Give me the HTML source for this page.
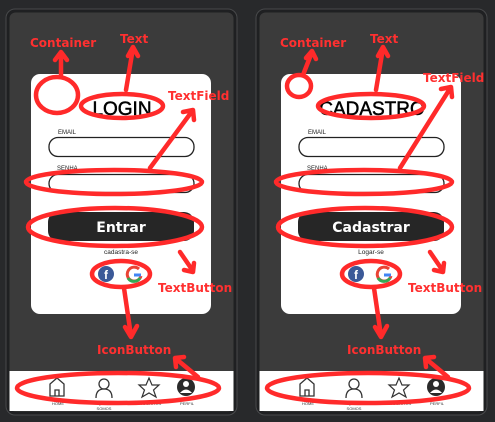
<!DOCTYPE html>
<html><head><meta charset="utf-8"><style>
html,body{margin:0;padding:0;background:#28292b;width:495px;height:422px;overflow:hidden}
svg{display:block;font-family:"Liberation Sans",sans-serif}
.r{fill:none;stroke:#ff2a2a;stroke-width:4.5;stroke-linecap:round;stroke-linejoin:round}
.rl{fill:#ff3030;font-weight:bold;font-size:12px;font-family:"DejaVu Sans",sans-serif}
</style></head><body>
<svg id="s" width="495" height="422"></svg>
<script>
function phone(ox, title, btn, link, cont, txtEll, tfLabel, tfArrowEnd){
  return `<g transform="translate(${ox},0)">
  <rect x="6" y="9" width="231" height="406" rx="9" fill="#1f2022" stroke="#48494b" stroke-width="1"/>
  <rect x="9.5" y="12.5" width="224" height="399" rx="6" fill="#3b3b3b"/>
  <rect x="31" y="74" width="180" height="240" rx="9" fill="#fff"/>
  <text x="122" y="115" text-anchor="middle" font-size="19" fill="#000" stroke="#000" stroke-width="0.5">${title}</text>
  <text x="58" y="134" font-size="6" fill="#222">EMAIL</text>
  <rect x="49" y="137.5" width="145" height="19" rx="9" fill="#fff" stroke="#222" stroke-width="1.3"/>
  <text x="57" y="170" font-size="6" fill="#222">SENHA</text>
  <rect x="49" y="174.5" width="145" height="18" rx="9" fill="#fff" stroke="#222" stroke-width="1.3"/>
  <rect x="48" y="212" width="146" height="29" rx="10" fill="#262626"/>
  <text x="121" y="232" text-anchor="middle" font-size="14" font-weight="bold" fill="#fff" font-family="DejaVu Sans,sans-serif">${btn}</text>
  <text x="121" y="254" text-anchor="middle" font-size="6.5" fill="#222">${link}</text>
  <circle cx="106" cy="274" r="8" fill="#3b5998"/>
  <text x="106" y="279" text-anchor="middle" font-size="12" font-weight="bold" fill="#fff">f</text>
  <g fill="none" stroke-width="3">
    <path d="M139 269 A7 7 0 1 0 141 276" stroke="#ea4335"/><path d="M134 275 H141" stroke="#4285f4"/>
    <path d="M128 278 A7 7 0 0 0 140 278" stroke="#34a853"/></g>
  <rect x="9.5" y="371" width="224" height="40" fill="#fff"/>
  <path d="M50 396 V384 L57 378 L64 384 V396 Z M55 396 V390 H59 V396" fill="none" stroke="#333" stroke-width="1.3"/>
  <circle cx="104" cy="384" r="5" fill="none" stroke="#333" stroke-width="1.3"/>
  <path d="M96 398 Q96 389 104 389 Q112 389 112 398" fill="none" stroke="#333" stroke-width="1.3"/>
  <path d="M149 378 L152 385 L159 385 L153.5 390 L156 397 L149 393 L142 397 L144.5 390 L139 385 L146 385 Z" fill="none" stroke="#333" stroke-width="1.2"/>
  <circle cx="186" cy="387" r="9" fill="#2a2a2a"/>
  <circle cx="186" cy="384" r="3" fill="#fff"/><path d="M180 393 Q186 386 192 393" fill="#fff"/>
  <g font-size="4" fill="#333" text-anchor="middle">
   <text x="58" y="405">HOME</text><text x="104" y="405">QUEM</text><text x="104" y="410">SOMOS</text><text x="150" y="405">FAVORITOS</text><text x="187" y="405">PERFIL</text></g>
  <g>
   ${cont}
   <text x="30" y="47" class="rl">Container</text>
   <text x="120" y="43" class="rl">Text</text>
   <path class="r" d="M126 90 L133 48 M128 56 L133 47 L138 56"/>
   ${txtEll}
   <text x="${tfLabel[0]}" y="${tfLabel[1]}" class="rl">TextField</text>
   <path class="r" d="M150 168 L${tfArrowEnd[0]} ${tfArrowEnd[1]} M${tfArrowEnd[0]-10} ${tfArrowEnd[1]+2} L${tfArrowEnd[0]} ${tfArrowEnd[1]} L${tfArrowEnd[0]+1} ${tfArrowEnd[1]+10}"/>
   <ellipse class="r" cx="114" cy="182" rx="88" ry="12"/>
   <ellipse class="r" cx="115" cy="227" rx="87" ry="19"/>
   <path class="r" d="M180 252 L193 271 M184 270 L193 272 L194 263"/>
   <text x="158" y="292" class="rl">TextButton</text>
   <ellipse class="r" cx="121" cy="274" rx="29" ry="13"/>
   <path class="r" d="M124 288 L131 336 M125 327 L131 337 L137 326"/>
   <text x="97" y="354" class="rl">IconButton</text>
   <ellipse class="r" cx="118" cy="388" rx="101" ry="15"/>
   <path class="r" d="M198 377 L175 358 M176 367 L175 358 L184 357"/>
  </g></g>`;
}
document.getElementById('s').innerHTML =
 phone(0,'LOGIN','Entrar','cadastra-se',
  '<ellipse class="r" cx="57" cy="95" rx="21" ry="18"/><path class="r" d="M61 76 L61 53 M55 60 L61 52 L67 60"/>',
  '<ellipse class="r" cx="122" cy="106" rx="41" ry="12"/>',[168,100],[193,110]) +
 phone(250,'CADASTRO','Cadastrar','Logar-se',
  '<ellipse class="r" cx="49" cy="86" rx="12" ry="11"/><path class="r" d="M53 75 L62 52 M56 58 L62 51 L66 59"/>',
  '<ellipse class="r" cx="121" cy="106" rx="53" ry="12"/>',[173,82],[201,87]);
</script>
</body></html>
